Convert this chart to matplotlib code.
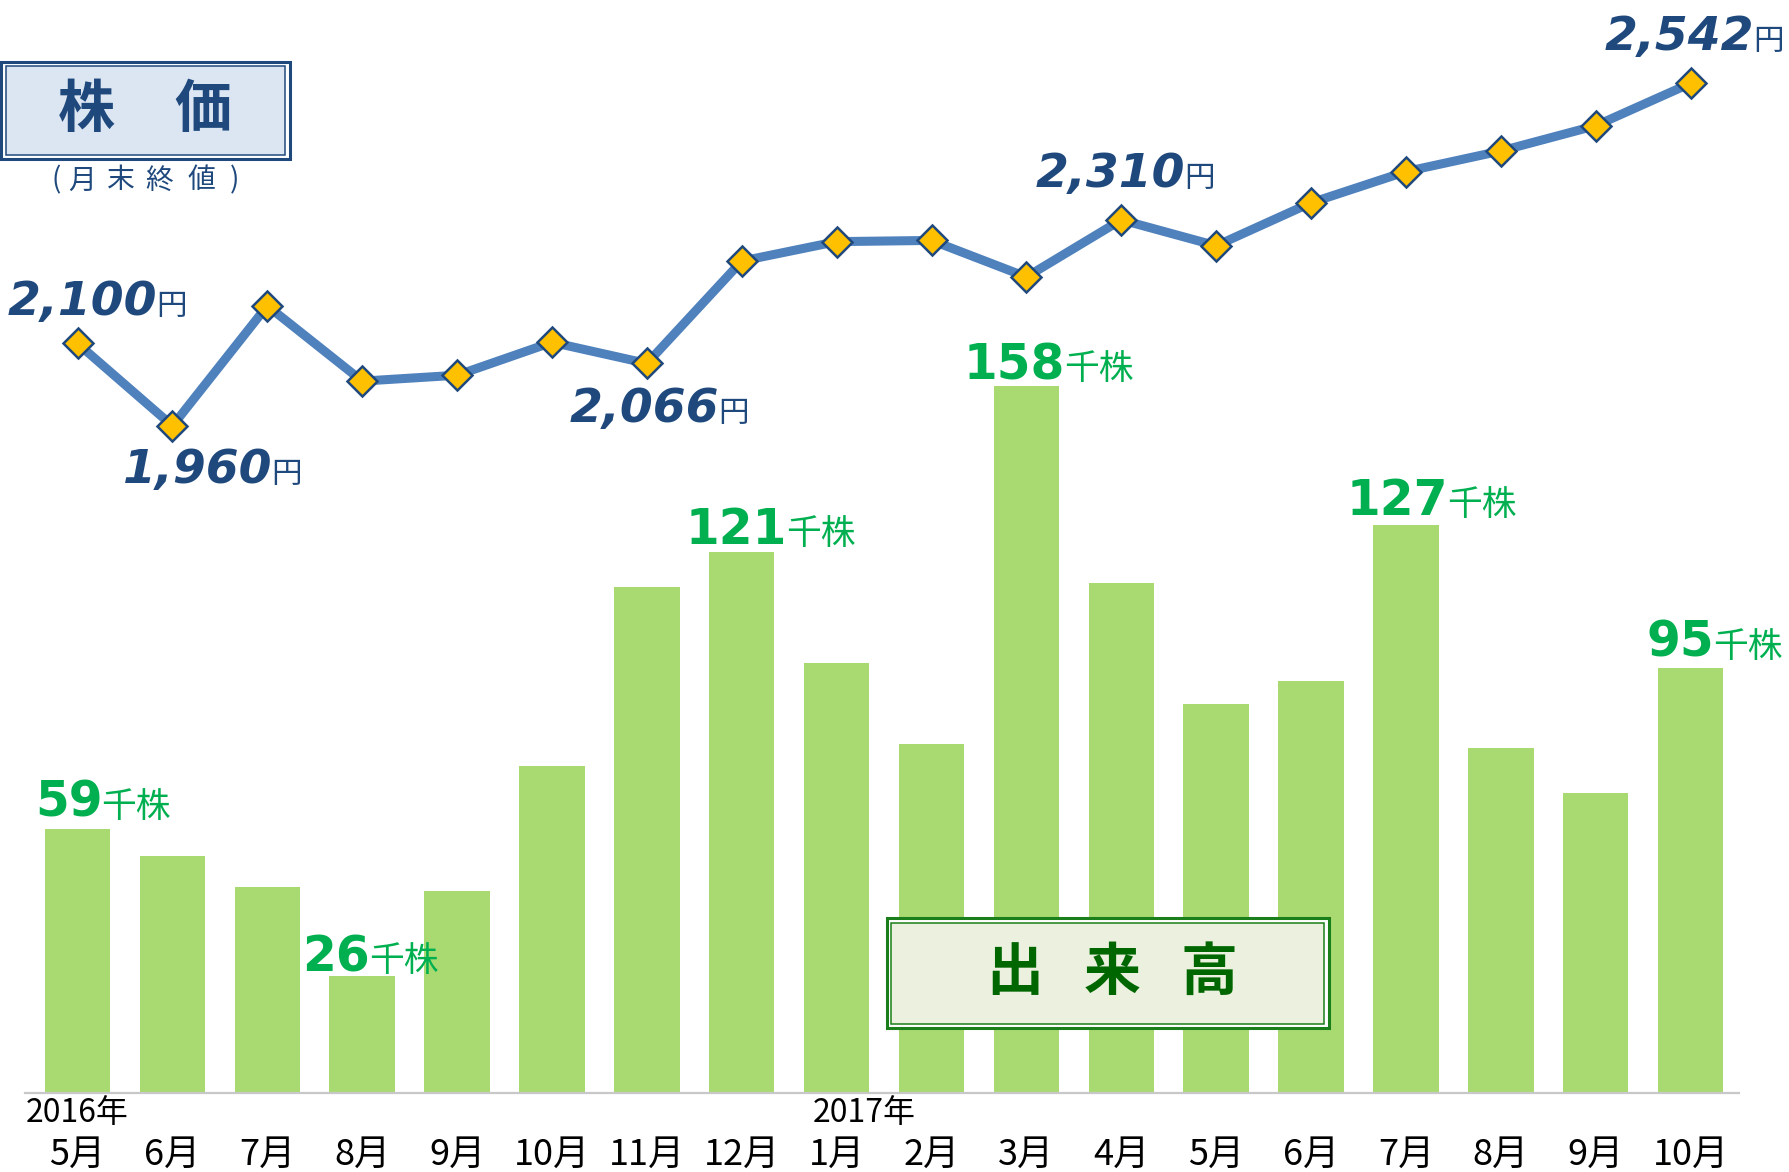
import matplotlib
matplotlib.use('Agg')
import matplotlib.pyplot as plt
from matplotlib.patches import Rectangle
from matplotlib.transforms import blended_transform_factory
import numpy as np

plt.rcParams['font.family'] = ['Noto Sans CJK JP', 'DejaVu Sans']

# ---------------- data ----------------
months = ['5月', '6月', '7月', '8月', '9月', '10月', '11月', '12月',
          '1月', '2月', '3月', '4月', '5月', '6月', '7月', '8月', '9月', '10月']
years = ['2016年', '2017年']
year_pos = [0.0, 8.29]
volume = [59, 53, 46, 26, 45, 73, 113, 121, 96, 78, 158, 114, 87, 92, 127, 77, 67, 95]
price = [2100, 1960, 2164, 2036, 2046, 2102, 2066, 2240, 2273, 2275, 2213,
         2310, 2266, 2339, 2392, 2427, 2470, 2542]
price_label_idx = [0, 1, 6, 11, 17]
volume_label_idx = [0, 3, 7, 10, 14, 17]
price_unit = '円'
volume_unit = '千株'

# ---------------- layout ----------------
W, H = 1790, 1172
# pixel offsets of label junction (number end / unit start) relative to the point
price_off = {0: (80, 28), 1: (100, -57), 6: (72, -59), 11: (64, 33), 17: (64, 33)}
vol_off = {0: (25, 12), 3: (8, 5), 7: (45, 8), 10: (39, 7), 14: (42, 10), 17: (24, 11)}

DARK_BLUE = '#1F497D'
GREEN_TXT = '#00B050'

fig = plt.figure(figsize=(W / 100, H / 100), dpi=100)
ax = fig.add_axes([25 / W, 1 - 1092.5 / H, (1739 - 25) / W, 1092.5 / H])
x = np.arange(len(months))
ax.bar(x, volume, width=0.69, color='#A9D971', zorder=1)
ax.set_xlim(-0.554, 17.51)
ax.set_ylim(0, 244.4)
for s in ['top', 'right', 'left']:
    ax.spines[s].set_visible(False)
ax.spines['bottom'].set_color('#C8C8C8')
ax.spines['bottom'].set_linewidth(1.6)
ax.set_xticks([])
ax.set_yticks([])
ax.patch.set_alpha(0)

ax2 = ax.twinx()
ax2.set_ylim(827.4, 2683.5)
for s in ax2.spines.values():
    s.set_visible(False)
ax2.set_yticks([])
ax2.plot(x, price, color='#4F81BD', lw=6.5, marker='D', ms=15.5,
         mfc='#FFC000', mec=DARK_BLUE, mew=1.8, zorder=3, solid_joinstyle='round')

# price labels
for i in price_label_idx:
    dx, dy = price_off[i]
    ax2.annotate(f'{price[i]:,}', xy=(i, price[i]), xytext=(dx, dy),
                 textcoords='offset pixels', ha='right', va='baseline',
                 fontsize=34, fontweight='bold', fontstyle='italic',
                 family='DejaVu Sans', color=DARK_BLUE)
    ax2.annotate(price_unit, xy=(i, price[i]), xytext=(dx - 1, dy),
                 textcoords='offset pixels', ha='left', va='baseline',
                 fontsize=22, color=DARK_BLUE)

# volume labels
for i in volume_label_idx:
    dx, dy = vol_off[i]
    ax.annotate(f'{volume[i]}', xy=(i, volume[i]), xytext=(dx, dy),
                textcoords='offset pixels', ha='right', va='baseline',
                fontsize=35, fontweight='bold', family='DejaVu Sans',
                color=GREEN_TXT)
    ax.annotate(volume_unit, xy=(i, volume[i]), xytext=(dx - 1, dy),
                textcoords='offset pixels', ha='left', va='baseline',
                fontsize=25, color=GREEN_TXT)

# month / year labels
tr = blended_transform_factory(ax.transData, ax.transAxes)
for i, m in enumerate(months):
    ax.text(i, -0.0575, m, transform=tr, ha='center', va='center',
            fontsize=26, color='#000000')
for yp, yl in zip(year_pos, years):
    ax.text(yp, -0.019, yl, transform=tr, ha='center', va='center',
            fontsize=23, color='#000000')


# ---------------- title boxes ----------------
def box(x0, y0, x1, y1, edge, face, inset=4.5):
    outer = Rectangle((x0 / W, 1 - y1 / H), (x1 - x0) / W, (y1 - y0) / H,
                      transform=fig.transFigure, facecolor='white',
                      edgecolor=edge, lw=2.2)
    inner = Rectangle(((x0 + inset) / W, 1 - (y1 - inset) / H),
                      (x1 - x0 - 2 * inset) / W, (y1 - y0 - 2 * inset) / H,
                      transform=fig.transFigure, facecolor=face,
                      edgecolor=edge, lw=1.1)
    fig.add_artist(outer)
    fig.add_artist(inner)


def ftext(px, py, s, **kw):
    fig.text(px / W, 1 - py / H, s, ha='center', va='center', **kw)


box(1.5, 62, 290, 159, DARK_BLUE, '#DCE6F2')
ftext(86.5, 109.5, '株', fontsize=41, fontweight='bold', color=DARK_BLUE)
ftext(202.5, 109.5, '価', fontsize=41, fontweight='bold', color=DARK_BLUE)
for cx, ch in zip([56, 82, 121, 159, 201.5, 235], ['(', '月', '末', '終', '値', ')']):
    ftext(cx, 180.5, ch, fontsize=20, color=DARK_BLUE)

box(887, 918, 1329, 1028, '#1A7F1A', '#EBF1DE')
for cx, ch in zip([1015, 1112, 1209.5], ['出', '来', '高']):
    ftext(cx, 973, ch, fontsize=41, fontweight='bold', color='#006600')

fig.savefig('out.png', dpi=100)
